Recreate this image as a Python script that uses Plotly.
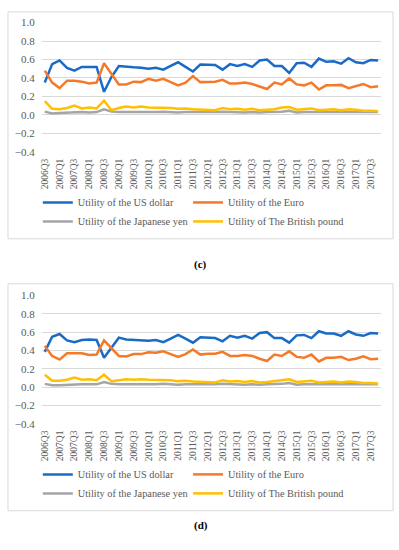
import plotly.graph_objects as go

quarters = []
for yr in range(2006, 2018):
    for q in range(1, 5):
        if yr == 2006 and q < 3:
            continue
        quarters.append(f"{yr}Q{q}")
tick_labels = quarters[::2]

series_names = ["Utility of the US dollar", "Utility of the Euro",
                "Utility of the Japanese yen", "Utility of The British pound"]
colors = ["#1A6BC6", "#F47A2A", "#A5A5A5", "#FFC000"]

usd_c = [0.35, 0.55, 0.59, 0.51, 0.48, 0.52, 0.52, 0.52, 0.25, 0.41,
         0.53, 0.52, 0.515, 0.51, 0.50, 0.51, 0.49, 0.53, 0.57, 0.52, 0.47,
         0.545, 0.54, 0.54, 0.49, 0.55, 0.53, 0.55, 0.52, 0.59, 0.60, 0.53, 0.53,
         0.455, 0.56, 0.565, 0.52, 0.61, 0.575, 0.58, 0.555, 0.615, 0.57, 0.56, 0.595, 0.59]
eur_c = [0.48, 0.35, 0.29, 0.37, 0.37, 0.36, 0.34, 0.35, 0.56, 0.44,
         0.33, 0.33, 0.36, 0.355, 0.39, 0.37, 0.39, 0.355, 0.32, 0.35, 0.42,
         0.355, 0.355, 0.36, 0.38, 0.34, 0.34, 0.35, 0.335, 0.31, 0.28, 0.35, 0.33,
         0.395, 0.33, 0.32, 0.35, 0.275, 0.32, 0.32, 0.325, 0.29, 0.31, 0.335, 0.30, 0.31]
jpy_c = [0.035, 0.015, 0.02, 0.025, 0.03, 0.03, 0.025, 0.03, 0.06, 0.035,
         0.03, 0.03, 0.03, 0.03, 0.025, 0.03, 0.035, 0.03, 0.025, 0.03, 0.03,
         0.03, 0.025, 0.03, 0.035, 0.03, 0.03, 0.025, 0.03, 0.025, 0.03, 0.03, 0.035,
         0.045, 0.025, 0.03, 0.03, 0.03, 0.025, 0.03, 0.03, 0.025, 0.03, 0.03, 0.03, 0.03]
gbp_c = [0.15, 0.065, 0.06, 0.075, 0.10, 0.07, 0.08, 0.07, 0.155, 0.05,
         0.075, 0.09, 0.08, 0.09, 0.08, 0.08, 0.075, 0.075, 0.065, 0.07, 0.06,
         0.055, 0.055, 0.05, 0.075, 0.06, 0.065, 0.055, 0.065, 0.05, 0.055, 0.06, 0.08,
         0.085, 0.055, 0.06, 0.07, 0.05, 0.055, 0.06, 0.05, 0.06, 0.055, 0.045, 0.045, 0.04]

usd_d = [0.385, 0.55, 0.58, 0.51, 0.49, 0.515, 0.52, 0.515, 0.32, 0.43,
         0.54, 0.52, 0.515, 0.515, 0.505, 0.515, 0.49, 0.53, 0.57, 0.53, 0.485,
         0.545, 0.54, 0.535, 0.50, 0.56, 0.54, 0.56, 0.53, 0.59, 0.60, 0.535, 0.535,
         0.485, 0.565, 0.57, 0.535, 0.61, 0.585, 0.585, 0.56, 0.61, 0.575, 0.56, 0.59, 0.585]
eur_d = [0.45, 0.34, 0.30, 0.37, 0.37, 0.37, 0.35, 0.355, 0.51, 0.43,
         0.34, 0.335, 0.36, 0.36, 0.38, 0.375, 0.39, 0.36, 0.33, 0.36, 0.41,
         0.355, 0.365, 0.365, 0.385, 0.34, 0.34, 0.35, 0.34, 0.31, 0.285, 0.355, 0.34,
         0.39, 0.33, 0.32, 0.355, 0.28, 0.32, 0.32, 0.33, 0.295, 0.31, 0.335, 0.305, 0.31]
jpy_d = [0.035, 0.02, 0.02, 0.025, 0.03, 0.03, 0.03, 0.03, 0.055, 0.035,
         0.03, 0.03, 0.03, 0.03, 0.025, 0.03, 0.035, 0.03, 0.025, 0.03, 0.03,
         0.03, 0.025, 0.03, 0.035, 0.03, 0.03, 0.025, 0.03, 0.025, 0.03, 0.03, 0.035,
         0.045, 0.025, 0.03, 0.03, 0.03, 0.025, 0.03, 0.03, 0.025, 0.03, 0.03, 0.03, 0.03]
gbp_d = [0.135, 0.07, 0.07, 0.08, 0.105, 0.08, 0.085, 0.075, 0.135, 0.065,
         0.075, 0.085, 0.08, 0.085, 0.08, 0.08, 0.075, 0.075, 0.065, 0.07, 0.06,
         0.055, 0.055, 0.05, 0.075, 0.06, 0.065, 0.055, 0.065, 0.05, 0.055, 0.065, 0.08,
         0.085, 0.055, 0.06, 0.07, 0.05, 0.055, 0.06, 0.05, 0.06, 0.055, 0.045, 0.045, 0.04]

y_ticks = [-0.4, -0.2, 0.0, 0.2, 0.4, 0.6, 0.8, 1.0]
panel_labels = ["(c)", "(d)"]

W, H = 399, 550
FONT = "Liberation Serif"
TICKC = "#595959"
GRID = "#D9D9D9"

def py(p):
    return 1 - p / H

fig = go.Figure()
# legend column assignment: col 1 = USD, yen ; col 2 = Euro, pound
panels = [
    ([usd_c, eur_c, jpy_c, gbp_c], "x", "y", ["legend", "legend2", "legend", "legend2"]),
    ([usd_d, eur_d, jpy_d, gbp_d], "x2", "y2", ["legend3", "legend4", "legend3", "legend4"]),
]
for vals, xa, ya, lgs in panels:
    for name, col, v, lg in zip(series_names, colors, vals, lgs):
        fig.add_trace(go.Scatter(x=quarters, y=v, mode="lines", name=name,
                                 line=dict(color=col, width=2.5),
                                 xaxis=xa, yaxis=ya, legend=lg))

xcommon = dict(type="category", range=[-0.4, len(quarters) - 0.6],
               tickmode="array", tickvals=tick_labels, ticktext=tick_labels,
               tickangle=-90, tickfont=dict(family=FONT, size=9.5, color=TICKC),
               showgrid=False, zeroline=False, showline=False, ticks="",
               domain=[40 / W, 381 / W], ticklabelstandoff=4)
ycommon = dict(range=[-0.4, 1.0], tickvals=y_ticks, tickformat=".1f",
               tickfont=dict(family=FONT, size=11, color=TICKC),
               showgrid=True, gridcolor=GRID, gridwidth=1, zeroline=False,
               showline=False, ticks="", ticklabelstandoff=6)

legcommon = dict(orientation="v", xanchor="left", yanchor="top",
                 font=dict(family=FONT, size=10.3, color=TICKC),
                 bgcolor="rgba(0,0,0,0)", itemwidth=30,
                 traceorder="normal")

fig.update_layout(
    width=W, height=H, margin=dict(l=0, r=0, t=0, b=0),
    paper_bgcolor="white", plot_bgcolor="white",
    showlegend=True,
    xaxis=dict(**xcommon, anchor="y"),
    yaxis=dict(**ycommon, domain=[py(149), py(17)], anchor="x"),
    xaxis2=dict(**xcommon, anchor="y2"),
    yaxis2=dict(**ycommon, domain=[py(427), py(296)], anchor="x2"),
    legend=dict(**legcommon, x=36 / W, y=py(186)),
    legend2=dict(**legcommon, x=187 / W, y=py(186)),
    legend3=dict(**legcommon, x=36 / W, y=py(464)),
    legend4=dict(**legcommon, x=187 / W, y=py(464)),
    shapes=[
        dict(type="rect", xref="paper", yref="paper", x0=6 / W, x1=393 / W,
             y0=py(238), y1=py(6), line=dict(color=GRID, width=1)),
        dict(type="rect", xref="paper", yref="paper", x0=6 / W, x1=393 / W,
             y0=py(516), y1=py(284), line=dict(color=GRID, width=1)),
    ],
    annotations=[
        dict(text=f"<b>{panel_labels[0]}</b>", xref="paper", yref="paper",
             x=200 / W, y=py(264), showarrow=False,
             font=dict(family=FONT, size=11, color="black")),
        dict(text=f"<b>{panel_labels[1]}</b>", xref="paper", yref="paper",
             x=200 / W, y=py(540), showarrow=False,
             font=dict(family=FONT, size=11, color="black")),
    ],
)

fig.write_html("out.html", config={"displayModeBar": False},
               post_script="document.body.style.margin='0';")
